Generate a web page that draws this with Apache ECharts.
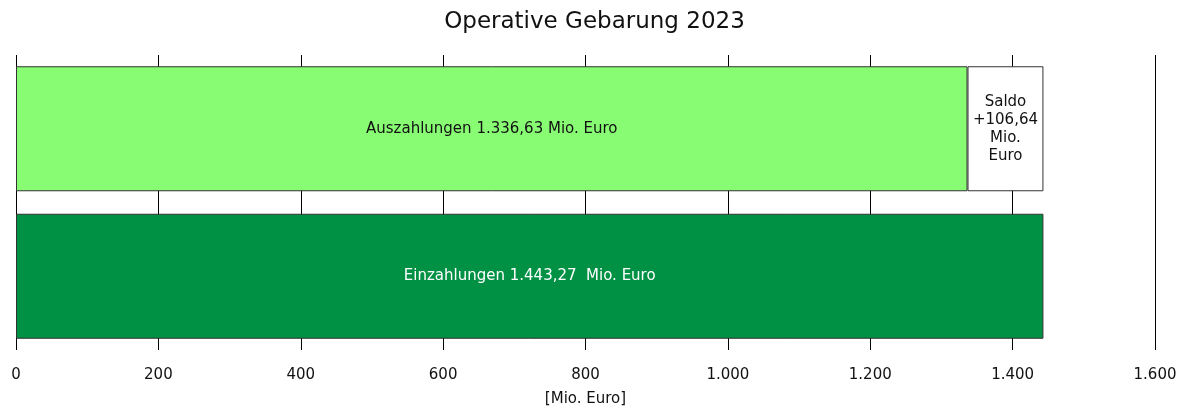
<!DOCTYPE html>
<html>
<head>
<meta charset="utf-8">
<script src="https://cdn.jsdelivr.net/npm/echarts@6/dist/echarts.min.js"></script>
<style>
  html, body { margin: 0; padding: 0; background: #fff; }
  #chart { width: 1189px; height: 412px; }
</style>
</head>
<body>
<div id="chart"></div>
<script>
const categories = ['Einzahlungen', 'Auszahlungen'];
const einzahlungen = [1443.27, '-'];
const auszahlungen = ['-', 1336.63];
const saldo = ['-', 106.64];
const xTicks = [0, 1600, 200];

const fmt = (v, d) => v.toLocaleString('de-DE', { minimumFractionDigits: d, maximumFractionDigits: d });
const font = 'DejaVu Sans';
const border = { borderColor: '#333', borderWidth: 1 };

const chart = echarts.init(document.getElementById('chart'));

chart.setOption({
  animation: false,
  textStyle: { fontFamily: font },
  title: {
    text: 'Operative Gebarung 2023',
    left: 'center',
    top: 6,
    textStyle: { fontFamily: font, fontSize: 23, fontWeight: 'normal', color: '#111' },
  },
  grid: { left: 16, right: 34, top: 55, bottom: 57 },
  xAxis: {
    type: 'value',
    min: xTicks[0],
    max: xTicks[1],
    interval: xTicks[2],
    name: '[Mio. Euro]',
    nameLocation: 'middle',
    nameGap: 42,
    nameTextStyle: { fontFamily: font, fontSize: 15, color: '#111' },
    axisLine: { show: false },
    axisTick: { show: false },
    axisLabel: {
      fontFamily: font,
      fontSize: 15,
      color: '#111',
      margin: 18,
      formatter: (v) => fmt(v, 0),
    },
    splitLine: { show: true, lineStyle: { color: '#000', width: 1 } },
  },
  yAxis: {
    type: 'category',
    data: categories,
    show: false,
  },
  series: [
    {
      name: 'Einzahlungen',
      type: 'bar',
      stack: 'total',
      barWidth: 125,
      data: einzahlungen,
      itemStyle: Object.assign({ color: '#009144' }, border),
      label: {
        show: true,
        position: 'inside',
        color: '#fff',
        fontFamily: font,
        fontSize: 15,
        formatter: (p) => 'Einzahlungen ' + fmt(p.value, 2) + '  Mio. Euro',
      },
    },
    {
      name: 'Auszahlungen',
      type: 'bar',
      stack: 'total',
      barWidth: 125,
      data: auszahlungen,
      itemStyle: Object.assign({ color: '#88fd74' }, border),
      label: {
        show: true,
        position: 'inside',
        color: '#111',
        fontFamily: font,
        fontSize: 15,
        formatter: (p) => 'Auszahlungen ' + fmt(p.value, 2) + ' Mio. Euro',
      },
    },
    {
      name: 'Saldo',
      type: 'bar',
      stack: 'total',
      barWidth: 125,
      data: saldo,
      itemStyle: Object.assign({ color: '#fff' }, border),
      label: {
        show: true,
        position: 'inside',
        color: '#111',
        fontFamily: font,
        fontSize: 15,
        lineHeight: 18,
        formatter: (p) => 'Saldo\n+' + fmt(p.value, 2) + '\nMio.\nEuro',
      },
    },
  ],
});

window.onresize = () => chart.resize();
</script>
</body>
</html>
